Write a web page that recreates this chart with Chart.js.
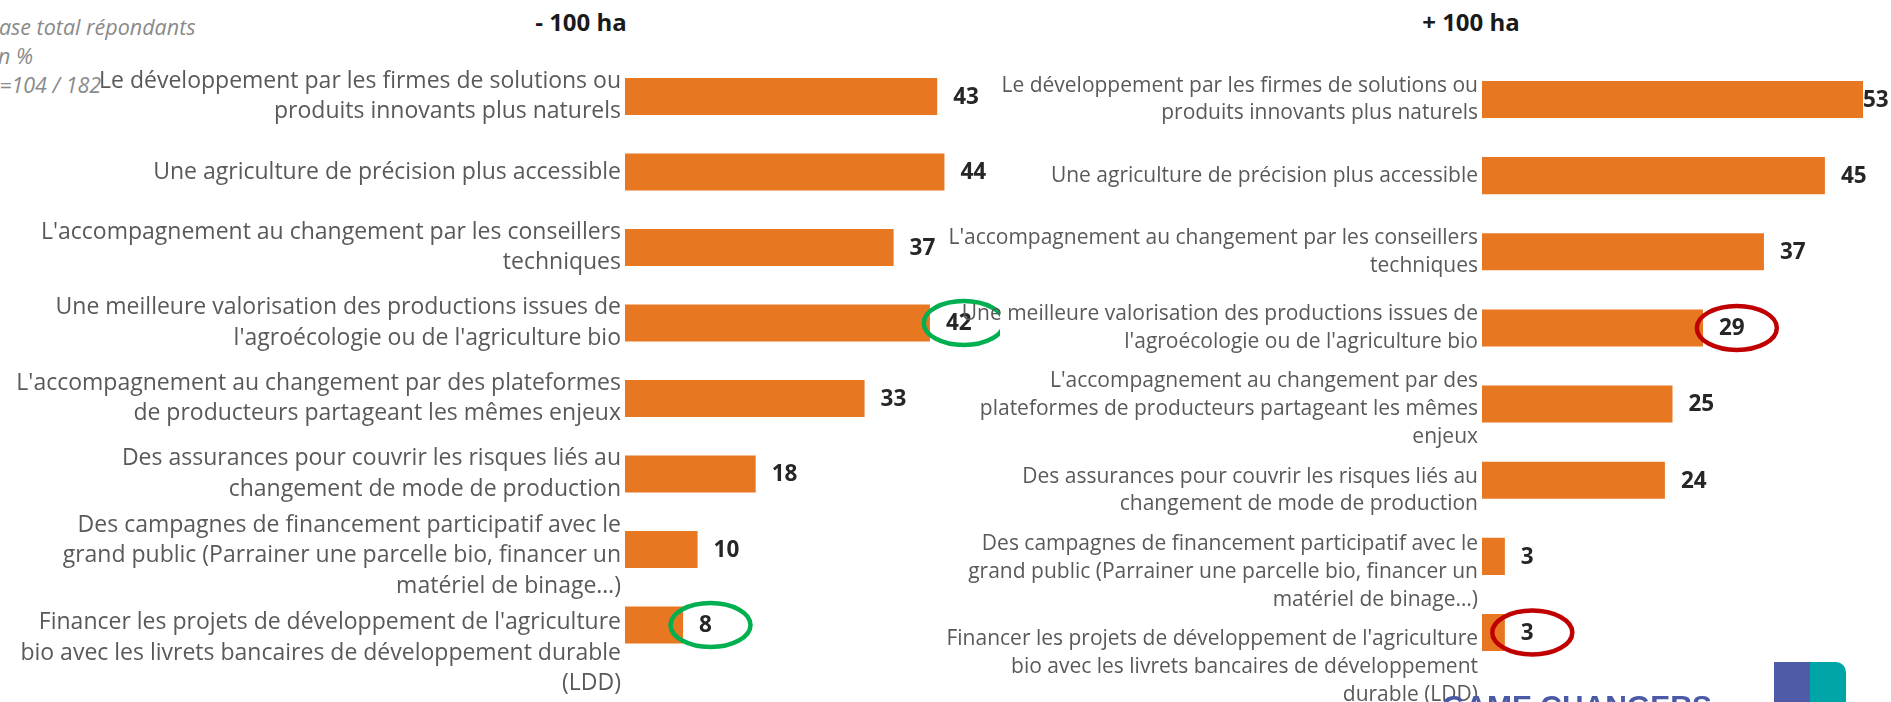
<!DOCTYPE html>
<html lang="fr">
<head>
  <meta charset="UTF-8">
  <title>Leviers - moins de 100 ha / plus de 100 ha</title>
  <script src="https://cdn.jsdelivr.net/npm/chart.js"></script>
  <style>
    body {
      margin: 0;
      width: 1891px;
      height: 702px;
      overflow: hidden;
      position: relative;
      background: #fff;
      font-family: "Open Sans", sans-serif;
    }
    canvas { position: absolute; top: 0; }
    #gauche { left: 0; }
    #droite { left: 940px; }
    .titre {
      position: absolute;
      top: 5px;
      line-height: 34px;
      font-size: 24px;
      font-weight: bold;
      color: #1a1a1a;
      transform: translateX(-50%);
      white-space: nowrap;
    }
    .note {
      position: absolute;
      font-style: italic;
      font-size: 21.5px;
      line-height: 29px;
      color: #8a8a8a;
      white-space: nowrap;
    }
    #logo-texte {
      position: absolute;
      left: 1442px;
      top: 691px;
      font-family: "Liberation Sans", sans-serif;
      font-weight: bold;
      font-size: 30px;
      line-height: 30px;
      color: #4b5aa6;
      white-space: nowrap;
    }
    #logo-carre {
      position: absolute;
      left: 1774px;
      top: 662px;
      width: 72px;
      height: 60px;
      background: linear-gradient(to right, #4e5ba6 50%, #00a5a8 50%);
      border-top-right-radius: 10px;
    }
  </style>
</head>
<body>
  <div class="note" style="left:-14px; top:12px;">Base total répondants</div>
  <div class="note" style="left:-13px; top:41px;">En %</div>
  <div class="note" style="left:-16px; top:70px;">N=104 / 182</div>

  <div class="titre" style="left:581px;">- 100 ha</div>
  <div class="titre" style="left:1471px;">+ 100 ha</div>

  <canvas id="gauche" width="1000" height="702"></canvas>
  <canvas id="droite" width="951" height="702"></canvas>

  <div id="logo-texte">GAME CHANGERS</div>
  <div id="logo-carre"></div>

  <script>
    // Libellés (coupés comme sur la diapo)
    const categoriesGauche = [
      ["Le développement par les firmes de solutions ou", "produits innovants plus naturels"],
      "Une agriculture de précision plus accessible",
      ["L'accompagnement au changement par les conseillers", "techniques"],
      ["Une meilleure valorisation des productions issues de", "l'agroécologie ou de l'agriculture bio"],
      ["L'accompagnement au changement par des plateformes", "de producteurs partageant les mêmes enjeux"],
      ["Des assurances pour couvrir les risques liés au", "changement de mode de production"],
      ["Des campagnes de financement participatif avec le", "grand public (Parrainer une parcelle bio, financer un", "matériel de binage…)"],
      ["Financer les projets de développement de l'agriculture", "bio avec les livrets bancaires de développement durable", "(LDD)"]
    ];
    const categoriesDroite = [
      ["Le développement par les firmes de solutions ou", "produits innovants plus naturels"],
      "Une agriculture de précision plus accessible",
      ["L'accompagnement au changement par les conseillers", "techniques"],
      ["Une meilleure valorisation des productions issues de", "l'agroécologie ou de l'agriculture bio"],
      ["L'accompagnement au changement par des", "plateformes de producteurs partageant les mêmes", "enjeux"],
      ["Des assurances pour couvrir les risques liés au", "changement de mode de production"],
      ["Des campagnes de financement participatif avec le", "grand public (Parrainer une parcelle bio, financer un", "matériel de binage…)"],
      ["Financer les projets de développement de l'agriculture", "bio avec les livrets bancaires de développement", "durable (LDD)"]
    ];

    // Valeurs en %
    const valeursGauche = [43, 44, 37, 42, 33, 18, 10, 8];
    const valeursDroite = [53, 45, 37, 29, 25, 24, 3, 3];

    // Barres dont l'étiquette est entourée
    const entouresGauche = [3, 7];
    const entouresDroite = [3, 7];

    const ORANGE = '#e87722';

    // libellés de l'axe : centrés sur la barre, poussés vers le bas s'ils se chevauchent
    const libelles = {
      id: 'libelles',
      afterDraw(chart, args, opts) {
        const ctx = chart.ctx;
        const scale = chart.scales.y;
        const lh = opts.taille * 1.32;
        let basPrec = -Infinity;
        ctx.save();
        ctx.font = opts.taille + 'px "Open Sans"';
        ctx.fillStyle = '#595959';
        ctx.textAlign = 'right';
        ctx.textBaseline = 'middle';
        chart.data.labels.forEach((lab, i) => {
          const lignes = Array.isArray(lab) ? lab : [lab];
          let haut = scale.getPixelForTick(i) - lignes.length * lh / 2;
          if (haut < basPrec + opts.ecart) haut = basPrec + opts.ecart;
          lignes.forEach((l, k) => ctx.fillText(l, scale.right - 4, haut + lh * (k + 0.5)));
          basPrec = haut + lignes.length * lh;
        });
        ctx.restore();
      }
    };

    // étiquettes de données + ellipses
    const etiquettes = {
      id: 'etiquettes',
      afterDatasetsDraw(chart, args, opts) {
        const ctx = chart.ctx;
        const area = chart.chartArea;
        const max = chart.scales.x.max;
        const meta = chart.getDatasetMeta(0);
        const valeurs = chart.data.datasets[0].data;
        ctx.save();
        ctx.font = 'bold 22.5px "Open Sans"';
        ctx.textBaseline = 'middle';
        meta.data.forEach((bar, i) => {
          const v = valeurs[i];
          const x = v > max ? area.right : bar.x + 16;
          const txt = String(v);
          ctx.fillStyle = '#262626';
          ctx.fillText(txt, x, bar.y + 1);
          if (opts.entoures.includes(i)) {
            const w = ctx.measureText(txt).width;
            ctx.beginPath();
            ctx.ellipse(x + w / 2 + 5, bar.y, 40, 22, 0, 0, Math.PI * 2);
            ctx.lineWidth = 4.5;
            ctx.strokeStyle = opts.couleur;
            ctx.stroke();
          }
        });
        ctx.restore();
      }
    };

    function creerGraphique(id, categories, valeurs, o) {
      return new Chart(document.getElementById(id), {
        type: 'bar',
        data: {
          labels: categories,
          datasets: [{
            data: valeurs,
            backgroundColor: ORANGE,
            barPercentage: o.barPct,
            categoryPercentage: 1,
            clip: 0
          }]
        },
        options: {
          indexAxis: 'y',
          responsive: false,
          animation: false,
          layout: { padding: o.padding },
          plugins: {
            legend: { display: false },
            tooltip: { enabled: false },
            etiquettes: { entoures: o.entoures, couleur: o.couleur },
            libelles: { taille: o.police, ecart: o.ecart }
          },
          scales: {
            x: { display: false, min: 0, max: 50 },
            y: {
              grid: { display: false, drawTicks: false },
              border: { display: false },
              ticks: { display: false },
              afterFit: s => { s.width = o.largeurAxe; }
            }
          }
        },
        plugins: [libelles, etiquettes]
      });
    }

    Promise.all([
      document.fonts.load('21px "Open Sans"'),
      document.fonts.load('bold 22px "Open Sans"')
    ]).finally(() => {
      creerGraphique('gauche', categoriesGauche, valeursGauche, {
        largeurAxe: 625,
        padding: { top: 58.75, bottom: 39.25, right: 12, left: 0 },
        barPct: 0.49,
        police: 23,
        ecart: 6,
        entoures: entouresGauche,
        couleur: '#00b050'
      });
      creerGraphique('droite', categoriesDroite, valeursDroite, {
        largeurAxe: 542,
        padding: { top: 61.4, bottom: 31.4, right: 28, left: 0 },
        barPct: 0.486,
        police: 21,
        ecart: 12,
        entoures: entouresDroite,
        couleur: '#c00000'
      });
    });
  </script>
</body>
</html>
